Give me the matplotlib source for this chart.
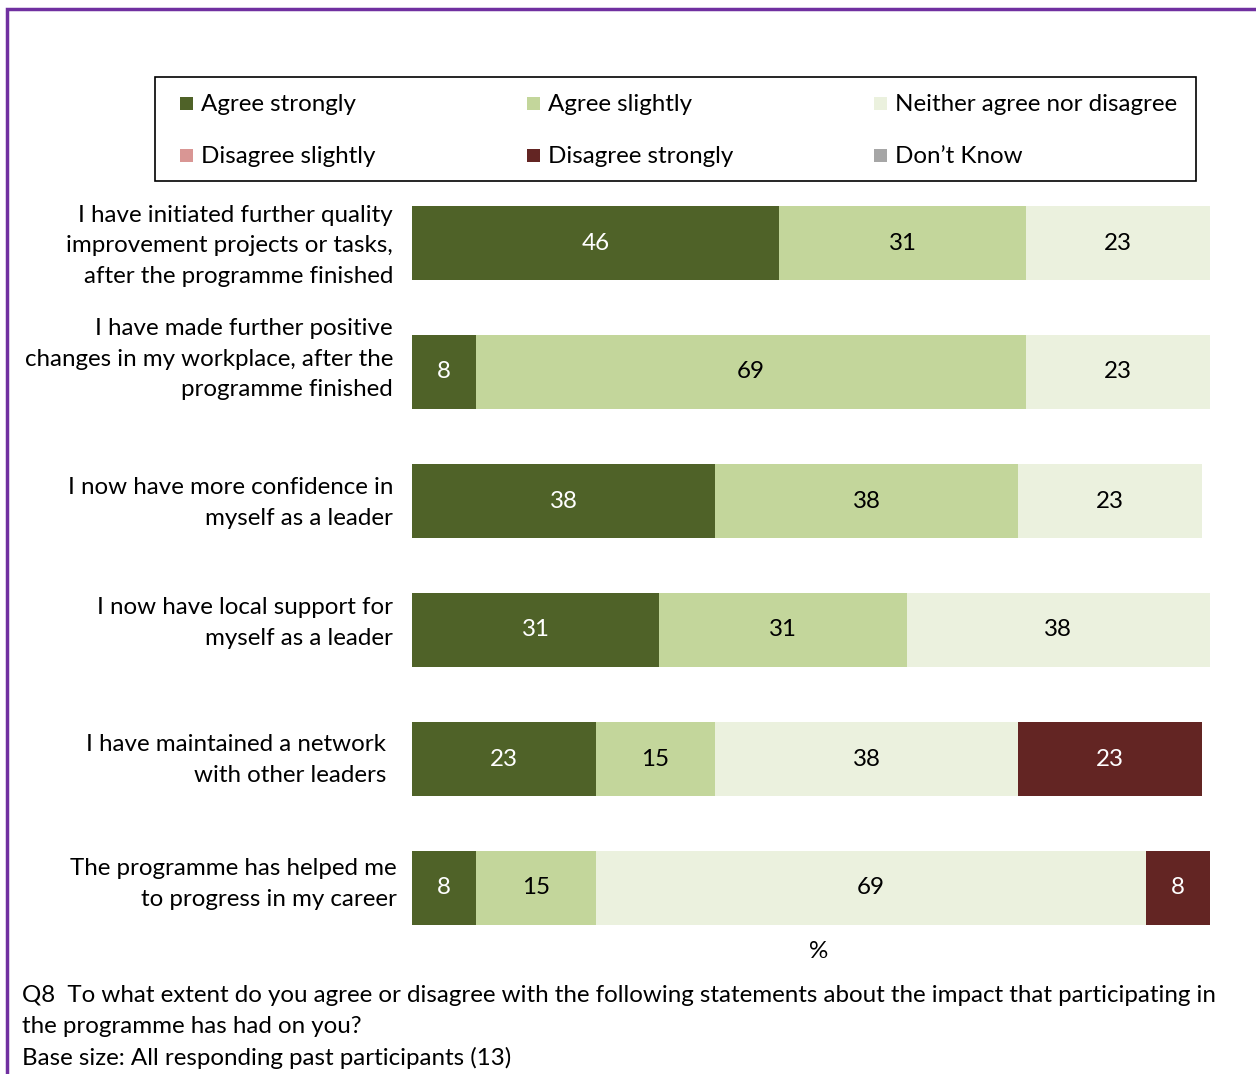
import matplotlib
matplotlib.use("Agg")
import matplotlib.pyplot as plt
from matplotlib.patches import Rectangle
from matplotlib.transforms import offset_copy

plt.rcParams['font.family'] = ['Lato', 'DejaVu Sans']

# Survey statements (top to bottom)
statements = [
    "I have initiated further quality\nimprovement projects or tasks,\nafter the programme finished",
    "I have made further positive\nchanges in my workplace, after the\nprogramme finished",
    "I now have more confidence in\nmyself as a leader",
    "I now have local support for\nmyself as a leader",
    "I have maintained a network\nwith other leaders",
    "The programme has helped me\nto progress in my career",
]

# Response categories
categories = ["Agree strongly", "Agree slightly", "Neither agree nor disagree",
              "Disagree slightly", "Disagree strongly", "Don\u2019t Know"]

# Percentages per category, one value per statement
agree_strongly    = [46, 8, 38, 31, 23, 8]
agree_slightly    = [31, 69, 38, 31, 15, 15]
neither           = [23, 23, 23, 38, 38, 69]
disagree_slightly = [0, 0, 0, 0, 0, 0]
disagree_strongly = [0, 0, 0, 0, 23, 8]
dont_know         = [0, 0, 0, 0, 0, 0]

series = [agree_strongly, agree_slightly, neither,
          disagree_slightly, disagree_strongly, dont_know]

colors = ["#4F6228", "#C3D69B", "#EBF1DE", "#D99694", "#632523", "#A6A6A6"]
text_colors = ["white", "black", "black", "black", "white", "black"]

FS = 17.4

W, H = 1256, 1074
fig = plt.figure(figsize=(W / 100, H / 100), dpi=100)

# purple frame around the whole exhibit
fig.patches.append(Rectangle((7 / W, -0.05), 1.2, 1 - 9 / H + 0.05,
                             transform=fig.transFigure, fill=False,
                             edgecolor="#7030A0", linewidth=2.5))

# bar area
left, right = 412, 1210
top, bottom = 178.5, 952.5
ax = fig.add_axes([left / W, 1 - bottom / H, (right - left) / W, (bottom - top) / H])
ax.set_xlim(0, 100)
ax.set_ylim(len(statements) - 0.5, -0.5)
ax.axis("off")

ypos = list(range(len(statements)))
bar_h = 0.566
starts = [0] * len(statements)
for vals, col, tcol in zip(series, colors, text_colors):
    ax.barh(ypos, vals, left=starts, height=bar_h, color=col, edgecolor="none")
    for i, v in enumerate(vals):
        if v > 0:
            ax.text(starts[i] + v / 2, i, f"{v}", ha="center", va="center",
                    color=tcol, fontsize=FS)
    starts = [s + v for s, v in zip(starts, vals)]

# statement labels, right aligned to the left of the bars
label_dx = [-19, -19, -19, -19, -26, -15]   # pixels from bar start
label_dy = [3, -13, 2, -7, 1, -4]           # pixels (negative = up)
for i, txt in enumerate(statements):
    tr = offset_copy(ax.transData, fig=fig, x=label_dx[i] * 0.72,
                     y=-label_dy[i] * 0.72, units="points")
    ax.text(0, i, txt, ha="right", va="center", fontsize=FS,
            linespacing=1.55, transform=tr, clip_on=False)

# axis unit
fig.text(819 / W, 1 - 952 / H, "%", ha="center", va="center", fontsize=FS)

# legend box
lx0, ly0, lx1, ly1 = 155, 77, 1196, 181
fig.patches.append(Rectangle((lx0 / W, 1 - ly1 / H), (lx1 - lx0) / W, (ly1 - ly0) / H,
                             transform=fig.transFigure, fill=False,
                             edgecolor="black", linewidth=1.2))
col_x = [180, 527, 874]
row_y = [103, 155]
sq = 13
for k, (name, col) in enumerate(zip(categories, colors)):
    cx = col_x[k % 3]
    cy = row_y[k // 3]
    fig.patches.append(Rectangle((cx / W, 1 - (cy + sq / 2) / H), sq / W, sq / H,
                                 transform=fig.transFigure, facecolor=col,
                                 edgecolor="none"))
    fig.text((cx + 21) / W, 1 - (cy + 1.5) / H, name, ha="left", va="center", fontsize=FS)

# question wording and base
notes = ["Q8  To what extent do you agree or disagree with the following statements about the impact that participating in",
         "the programme has had on you?",
         "Base size: All responding past participants (13)"]
for j, line in enumerate(notes):
    fig.text(22 / W, 1 - (995 + j * 31.5) / H, line, ha="left", va="center", fontsize=FS)

fig.savefig("out.png", dpi=100)
